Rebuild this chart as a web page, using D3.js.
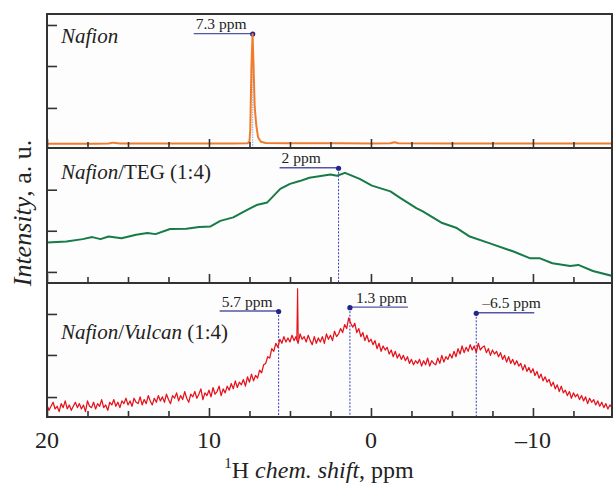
<!DOCTYPE html>
<html>
<head>
<meta charset="utf-8">
<script src="https://cdn.jsdelivr.net/npm/d3@7"></script>
<style>
  body { margin: 0; background: #fff; }
  svg { display: block; font-family: "Liberation Serif", "DejaVu Serif", serif; }
</style>
</head>
<body>
<svg id="chart" width="613" height="484" font-family="Liberation Serif, DejaVu Serif, serif"></svg>
<script>
/* 1H NMR spectra of three samples, stacked in three panels that share
   one chemical shift axis (ppm, decreasing to the right). */

// --- data (intensity in panel units 0..100)
const nafionTrace = [
    [20, 3.2], [17, 3.2], [16.2, 3.3], [15.9, 4.0], [15.5, 3.4], [12, 3.3], [10, 3.4],
    [8.5, 3.4], [7.6, 3.6], [7.5, 5], [7.45, 14], [7.38, 60], [7.31, 85], [7.25, 62],
    [7.18, 31], [7.08, 17], [6.97, 8], [6.8, 4.6], [6.5, 3.8], [5, 3.5], [2, 3.5],
    [0, 3.4], [-1.2, 3.6], [-1.45, 4.3], [-1.7, 3.6], [-5, 3.3], [-10, 3.3], [-15, 3.3]
];

const tegTrace = [
    [20, 30], [18.8, 30.7], [17.8, 32.5], [17.2, 34], [16.7, 32.5], [16.2, 34.4],
    [15.4, 33.2], [14.5, 35.7], [13.8, 37], [13.3, 36.2], [12.4, 40], [11.4, 40.1],
    [10.6, 41.4], [9.9, 41.9], [9.3, 46], [8.5, 48.6], [7.7, 53.8], [7.0, 58],
    [6.4, 59.7], [5.6, 69.7], [5.0, 73.4], [4.4, 75.5], [3.8, 78], [3.1, 79.2],
    [2.5, 80.3], [2.1, 79.4], [1.6, 81.6], [0.7, 77.1], [-0.06, 72.1], [-1.2, 67.9],
    [-1.8, 63], [-2.8, 55.5], [-3.2, 53], [-4.4, 44.4], [-5.3, 40.7], [-6.1, 34.4],
    [-7.3, 29.5], [-8.8, 23.3], [-9.8, 18.4], [-10.4, 18.4], [-11.2, 14.6],
    [-12.3, 12.6], [-12.8, 13.4], [-13.7, 8.9], [-14.9, 5.2]
];

// Nafion/Vulcan: noisy trace, one value every 0.125 ppm from 20 ppm down to -15 ppm
// (one row per ppm)
const vulcanStart = 20;
const vulcanStep = -0.125;
const vulcanValues = [
    9, 5, 8, 11, 6, 8, 4, 10,
    7, 12, 6, 9, 5, 8, 11, 7,
    10, 6, 9, 4, 12, 8, 7, 11,
    6, 10, 8, 13, 7, 9, 5, 11,
    9, 13, 8, 11, 7, 12, 10, 14,
    9, 12, 8, 14, 11, 10, 15, 9,
    13, 10, 16, 12, 9, 14, 11, 16,
    12, 15, 11, 17, 13, 10, 16, 14,
    18, 12, 16, 13, 19, 14, 11, 17,
    15, 19, 14, 17, 21, 13, 18, 16,
    20, 15, 22, 17, 19, 23, 16, 21,
    18, 23, 20, 25, 21, 27, 22, 26,
    24, 28, 23, 30, 26, 32, 27, 31,
    29, 35, 33, 39, 40, 45, 44, 51,
    49, 55, 52, 58, 55, 60, 56, 59,
    56, 61, 57, 60, 55, 62, 58, 60,
    56, 61, 57, 54, 60, 55, 59, 56,
    60, 55, 62, 58, 61, 57, 64, 60,
    62, 66, 63, 69, 66, 74, 70, 67,
    70, 63, 66, 60, 63, 57, 61, 56,
    58, 54, 57, 51, 55, 49, 53, 50,
    52, 47, 50, 45, 49, 44, 47, 43,
    46, 42, 45, 40, 43, 39, 42, 40,
    43, 38, 42, 39, 44, 38, 42, 40,
    39, 44, 40, 46, 41, 45, 43, 47,
    44, 49, 45, 51, 47, 53, 48, 52,
    49, 54, 50, 53, 48, 55, 50, 52,
    53, 48, 51, 46, 50, 47, 49, 45,
    48, 43, 46, 41, 45, 40, 43, 39,
    42, 38, 40, 35, 39, 34, 37, 33,
    36, 31, 34, 29, 32, 27, 30, 26,
    28, 23, 26, 21, 24, 19, 23, 18,
    20, 16, 19, 14, 18, 15, 17, 13,
    16, 12, 15, 10, 14, 11, 13, 9,
    12, 8, 11, 7, 10, 6, 9, 7,
    8
];
const vulcanSpike = [[4.58, 57], [4.53, 96], [4.49, 58]];

const panelNames = [
    [{t: 'Nafion', it: true}],
    [{t: 'Nafion', it: true}, {t: '/TEG (1:4)', it: false}],
    [{t: 'Nafion', it: true}, {t: '/', it: false}, {t: 'Vulcan', it: true}, {t: ' (1:4)', it: false}]
];

const peakShift = [[7.3], [2], [5.7, 1.3, -6.5]];
const peakLevel = [[85], [85], [78.7, 81.6, 77.4]];
const peakText = [['7.3 ppm'], ['2 ppm'], ['5.7 ppm', '1.3 ppm', '\u20136.5 ppm']];
const peakSide = [['left'], ['left'], ['left', 'right', 'right']];

const yTicks = [[91.8, 61.2, 29.9], [69.1, 38.7, 8.2], [76.9, 46.3, 14.9]];
const xMajor = [20, 10, 0, -10];
const xMinor = [17.5, 15, 12.5, 7.5, 5, 2.5, -2.5, -5, -7.5, -12.5];
const xTickLabel = ['20', '10', '0', '\u201310'];

// --- layout and styles
const panelTop = [14, 148, 283];
const panelBottom = [148, 283, 417];
const titleBaseline = [43, 179, 339];
const traceColor = ['#f27b2b', '#177a47', '#e5121c'];
const markColor = '#25258c';
const lineColor = '#5454a8';
const textColor = '#222';

const svg = d3.select('#chart');
const x = d3.scaleLinear().domain([20, -14.88]).range([47, 612]);
const yScales = panelTop.map((top, i) =>
    d3.scaleLinear().domain([0, 100]).range([panelBottom[i], top]));

const vulcanTrace = vulcanValues.map((v, i) => [vulcanStart + i * vulcanStep, v]);
const traces = [nafionTrace, tegTrace, vulcanTrace];

const defs = svg.append('defs');

function drawPanel(i) {
    let y = yScales[i];
    let g = svg.append('g').attr('class', 'panel');
    let width = x.range()[1] - x.range()[0];

    g.append('rect')
        .attr('x', x.range()[0]).attr('y', panelTop[i])
        .attr('width', width)
        .attr('height', panelBottom[i] - panelTop[i])
        .attr('fill', '#fdfdfd');

    defs.append('clipPath').attr('id', 'clip' + i)
        .append('rect')
        .attr('x', x.range()[0]).attr('y', panelTop[i] - 30)
        .attr('width', width)
        .attr('height', panelBottom[i] - panelTop[i] + 30);

    // peak markers: dashed drop line, short leader and label
    let peaks = peakShift[i].map((s, k) => ({shift: s, level: peakLevel[i][k], text: peakText[i][k], side: peakSide[i][k]}));
    let marks = g.selectAll('g.peak').data(peaks).join('g').attr('class', 'peak');
    marks.append('line')
        .attr('x1', d => x(d.shift)).attr('x2', d => x(d.shift))
        .attr('y1', d => y(d.level)).attr('y2', panelBottom[i])
        .attr('stroke', i === 0 ? '#88a8dc' : '#3a3ab8')
        .attr('stroke-width', 1)
        .attr('stroke-dasharray', i === 0 ? '1.5,1' : '2,1.5');

    // the trace itself
    let line = d3.line().x(d => x(d[0])).y(d => y(d[1]));
    let clipped = g.append('g').attr('clip-path', `url(#clip${i})`);
    clipped.append('path')
        .attr('d', line(traces[i]))
        .attr('fill', 'none')
        .attr('stroke', traceColor[i])
        .attr('stroke-width', i === 2 ? 1.25 : 2)
        .attr('stroke-linejoin', 'round');
    if (i === 2) {
        clipped.append('path')
            .attr('d', line(vulcanSpike))
            .attr('fill', 'none')
            .attr('stroke', traceColor[i])
            .attr('stroke-width', 1.1);
    }

    marks.append('line')
        .attr('x1', d => x(d.shift))
        .attr('x2', d => x(d.shift) + (d.side === 'left' ? -59 : 58))
        .attr('y1', d => y(d.level) - 0.5).attr('y2', d => y(d.level) - 0.5)
        .attr('stroke', lineColor)
        .attr('stroke-width', 1.4);
    marks.append('circle')
        .attr('cx', d => x(d.shift)).attr('cy', d => y(d.level))
        .attr('r', 2.6)
        .attr('fill', markColor);
    marks.append('text')
        .attr('x', d => d.side === 'left' ? x(d.shift) - 57 : x(d.shift) + 6)
        .attr('y', d => y(d.level) - 5)
        .attr('font-size', 15.5)
        .attr('fill', textColor)
        .text(d => d.text);

    // panel title
    let title = g.append('text')
        .attr('x', 61).attr('y', titleBaseline[i])
        .attr('font-size', 21)
        .attr('fill', textColor);
    title.selectAll('tspan').data(panelNames[i]).join('tspan')
        .attr('font-style', d => d.it ? 'italic' : 'normal')
        .text(d => d.t);

    // inner ticks: x along the bottom, y along the left edge
    let xAxisMajor = d3.axisTop(x).tickValues(xMajor).tickSize(9).tickFormat('');
    let xAxisMinor = d3.axisTop(x).tickValues(xMinor).tickSize(6).tickFormat('');
    let yAxis = d3.axisRight(y).tickValues(yTicks[i]).tickSize(10).tickFormat('');
    [xAxisMajor, xAxisMinor].forEach(ax => {
        g.append('g').attr('transform', `translate(0,${panelBottom[i]})`).call(ax)
            .call(a => a.select('.domain').remove())
            .selectAll('line').attr('stroke', '#333').attr('stroke-width', 1.6);
    });
    g.append('g').attr('transform', `translate(${x.range()[0]},0)`).call(yAxis)
        .call(a => a.select('.domain').remove())
        .selectAll('line').attr('stroke', '#333').attr('stroke-width', 1.6);

    g.append('rect')
        .attr('x', x.range()[0]).attr('y', panelTop[i])
        .attr('width', width)
        .attr('height', panelBottom[i] - panelTop[i])
        .attr('fill', 'none')
        .attr('stroke', '#333')
        .attr('stroke-width', 2);
}

[0, 1, 2].forEach(drawPanel);

// shared x tick labels
svg.append('g').selectAll('text').data(xMajor).join('text')
    .attr('x', d => x(d)).attr('y', 448)
    .attr('text-anchor', 'middle')
    .attr('font-size', 24)
    .attr('fill', textColor)
    .text((d, k) => xTickLabel[k]);

// axis titles
let xTitle = svg.append('text')
    .attr('x', 319).attr('y', 478)
    .attr('text-anchor', 'middle')
    .attr('font-size', 24)
    .attr('fill', textColor);
xTitle.append('tspan').attr('font-size', 15).attr('dy', -10).text('1');
xTitle.append('tspan').attr('dy', 10).text('H ');
xTitle.append('tspan').attr('font-style', 'italic').text('chem. shift');
xTitle.append('tspan').text(', ppm');

let yTitle = svg.append('text')
    .attr('transform', 'translate(31,213) rotate(-90)')
    .attr('text-anchor', 'middle')
    .attr('font-size', 26)
    .attr('fill', textColor);
yTitle.append('tspan').attr('font-style', 'italic').text('Intensity');
yTitle.append('tspan').text(', a. u.');
</script>
</body>
</html>
